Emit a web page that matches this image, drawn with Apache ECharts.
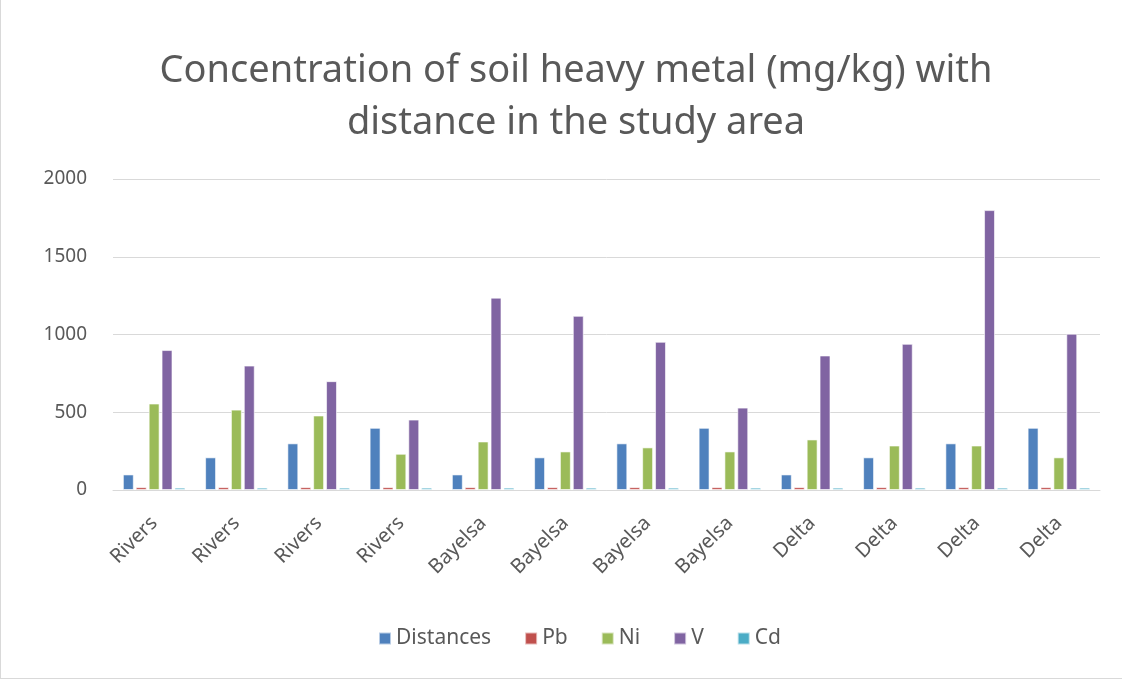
<!DOCTYPE html>
<html>
<head>
<meta charset="utf-8">
<script src="https://cdn.jsdelivr.net/npm/echarts@6/dist/echarts.min.js"></script>
<style>
  html, body { margin: 0; padding: 0; background: #fff; }
  #chart { width: 1122px; height: 679px; box-sizing: border-box; border-left: 1px solid #d9d9d9; border-bottom: 1px solid #d9d9d9; }
</style>
</head>
<body>
<div id="chart"></div>
<script>
var categories = ["Rivers", "Rivers", "Rivers", "Rivers", "Bayelsa", "Bayelsa", "Bayelsa", "Bayelsa", "Delta", "Delta", "Delta", "Delta"];
var distances = [100, 210, 300, 400, 100, 210, 300, 400, 100, 210, 300, 400];
var pb = [18, 18, 18, 18, 18, 18, 18, 18, 18, 18, 18, 18];
var ni = [556, 517, 479, 233, 312, 248, 274, 248, 325, 286, 286, 210];
var v = [900, 800, 700, 453, 1237, 1120, 953, 530, 865, 940, 1800, 1005];
var cd = [15, 15, 15, 15, 15, 15, 15, 15, 15, 15, 15, 15];
var yTicks = [0, 500, 1000, 1500, 2000];

var font = "Noto Sans";
var textColor = "#595959";

var myChart = echarts.init(document.getElementById("chart"));

function bar(name, data, color) {
  return {
    name: name,
    type: "bar",
    data: data,
    barGap: "18%",
    barCategoryGap: "24%",
    itemStyle: { color: color, borderColor: "rgba(255,255,255,0.6)", borderWidth: 1 },
  };
}

var option = {
  animation: false,
  backgroundColor: "#fff",
  title: {
    text: "Concentration of soil heavy metal (mg/kg) with\ndistance in the study area",
    left: 570,
    textAlign: "center",
    top: 40,
    textStyle: {
      color: textColor,
      fontFamily: font,
      fontWeight: "normal",
      fontSize: 38,
      lineHeight: 52,
    },
  },
  legend: {
    bottom: 24,
    left: 372,
    itemWidth: 12,
    itemHeight: 12,
    itemGap: 33,
    icon: "rect",
    textStyle: { color: textColor, fontFamily: font, fontSize: 21 },
    data: ["Distances", "Pb", "Ni", "V", "Cd"],
  },
  grid: {
    left: 112,
    right: 22,
    top: 179,
    bottom: 188,
    containLabel: false,
  },
  xAxis: {
    type: "category",
    data: categories,
    axisTick: { show: false },
    axisLine: { lineStyle: { color: "#d9d9d9", width: 1 } },
    axisLabel: {
      rotate: 45,
      color: textColor,
      fontFamily: font,
      fontSize: 20,
      margin: 30,
    },
  },
  yAxis: {
    type: "value",
    min: yTicks[0],
    max: yTicks[yTicks.length - 1],
    interval: 500,
    axisLine: { show: false },
    axisTick: { show: false },
    axisLabel: {
      color: textColor,
      fontFamily: font,
      fontSize: 19,
      margin: 26,
      formatter: function (val) {
        return String(val);
      },
    },
    splitLine: { lineStyle: { color: "#d9d9d9", width: 1 } },
  },
  series: [
    bar("Distances", distances, "#4f81bd"),
    bar("Pb", pb, "#c0504d"),
    bar("Ni", ni, "#9bbb59"),
    bar("V", v, "#8064a2"),
    bar("Cd", cd, "#4bacc6"),
  ],
};

option && myChart.setOption(option);
</script>
</body>
</html>
